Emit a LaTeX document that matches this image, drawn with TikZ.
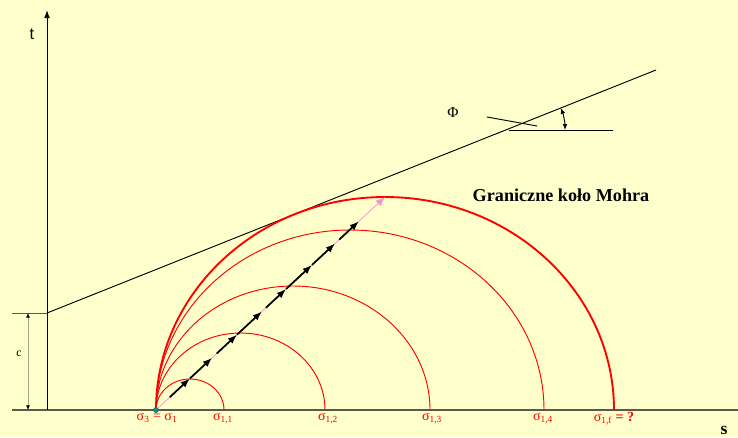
\documentclass[tikz,border=0pt]{standalone}
\usepackage{fontspec}
\setmainfont{Liberation Serif}
\newfontfamily\sansfont{Liberation Sans}
\usepackage{tikz}
\usetikzlibrary{arrows.meta,positioning,calc}
\definecolor{PaleYellow}{RGB}{255,255,204}
\definecolor{MohrRed}{RGB}{255,0,0}
\definecolor{DimGray}{RGB}{165,165,135}
\definecolor{PathPink}{RGB}{255,140,210}
\definecolor{DotTeal}{RGB}{0,150,130}
\definecolor{AxisGray}{RGB}{90,90,70}

\begin{document}
\begin{tikzpicture}[x=0.03cm,y=0.03cm,
  circ/.style={draw=MohrRed,line width=0.8pt},
  arr/.style={-{Latex[length=8pt,width=6pt]},line width=1.5pt},
  slbl/.style={text=MohrRed,font=\fontsize{12}{14}\selectfont,inner sep=0pt,anchor=north},
  dimarr/.style={{Latex[color=black,length=4pt,width=3.5pt]}-{Latex[color=black,length=4pt,width=3.5pt]},color=DimGray,line width=0.6pt}
]
\fill[PaleYellow] (0,0) rectangle (738,437);
\useasboundingbox (0,0) rectangle (738,437);

% axes
\coordinate (o) at (47,27);
\coordinate (ytop) at (47,427);
\coordinate (xl) at (12,27);
\coordinate (xr) at (738,27);
\draw[line width=1.1pt,color=AxisGray](xl)--(xr);
\draw[-{Latex[length=7pt,width=5pt]},line width=0.8pt](o)--(ytop);
\node[font=\sansfont\fontsize{14}{16}\selectfont] (t) at (32,403) {t};
\node[font=\bfseries\fontsize{15}{17}\selectfont,inner sep=0pt,anchor=base] (s) at (724,3) {s};

% cohesion
\coordinate (c0) at (12,124);
\coordinate (c1) at (47,124);
\draw[line width=0.8pt,color=AxisGray](c0)--(c1);
\coordinate (d0) at (28,124);
\coordinate (d1) at (28,27);
\draw[dimarr](d0)--(d1);
\node[font=\fontsize{10}{12}\selectfont] (c) at (19,83) {c};

% envelope
\coordinate (e1) at (656,367);
\draw[line width=0.8pt](c1)--(e1);

% friction angle
\coordinate (pc) at (506,307);
\coordinate (ph0) at (509,307);
\coordinate (ph1) at (613,307);
\coordinate (pa) at (487,320);
\coordinate (pb) at (537,311);
\draw[line width=0.8pt](ph0)--(ph1);
\draw[line width=0.8pt](pa)--(pb);
\draw[{Latex[length=5pt,width=4pt]}-{Latex[length=5pt,width=4pt]},line width=0.8pt]
  ($(pc)+(21.8:59)$) arc[start angle=21.8,end angle=0,radius=59];
\node[font=\fontsize{13}{15}\selectfont] (phi) at (453,324) {Φ};

% Mohr circles
\coordinate (s3) at (156,27);
\foreach \r/\yr in {34/31,84.5/77,137/124,194/180}
  \draw[circ](s3) arc[start angle=180,end angle=0,x radius=\r,y radius=\yr];
\draw[circ,line width=1.6pt](s3) arc[start angle=180,end angle=0,x radius=229,y radius=213];
\node[font=\bfseries\fontsize{15.5}{18}\selectfont] (title) at (561,242) {Graniczne koło Mohra};

% stress path
\coordinate (top) at (385,240);
\draw[-{Latex[length=8pt,width=6pt]},color=PathPink,line width=0.6pt](s3)--(top);
\foreach \a/\b in {0.06/0.148,0.148/0.245,0.265/0.354,0.354/0.463,0.48/0.568,0.568/0.681,0.681/0.782,0.80/0.886}
  \draw[arr]($(s3)!\a!(top)$)--($(s3)!\b!(top)$);
\filldraw[fill=DotTeal,draw=black!70,line width=0.4pt](s3) circle[radius=2.6];

% labels
\node[slbl] (l0) at (157,24) {σ\textsubscript{3} = σ\textsubscript{1}};
\node[slbl] (l1) at (223,24) {σ\textsubscript{1,1}};
\node[slbl] (l2) at (328,24) {σ\textsubscript{1,2}};
\node[slbl] (l3) at (432,24) {σ\textsubscript{1,3}};
\node[slbl] (l4) at (543,24) {σ\textsubscript{1,4}};
\node[slbl] (lf) at (614,25) {σ\textsubscript{1,f}\textbf{ = ?}};
\end{tikzpicture}
\end{document}
